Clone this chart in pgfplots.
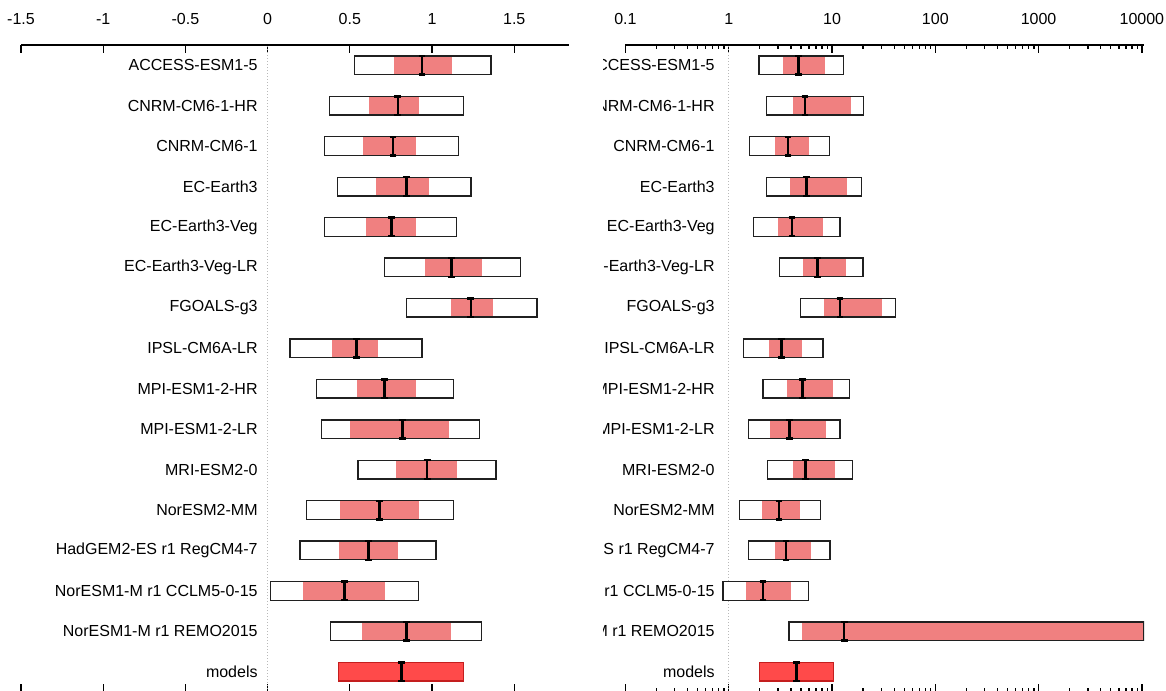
\documentclass[border=0pt]{standalone}
\usepackage{fontspec}
\setmainfont{Liberation Sans}
\usepackage{pgfplots}
\usepackage{pgfplotstable}
\pgfplotsset{compat=1.18}

\definecolor{innerred}{HTML}{F08080}
\definecolor{modfill}{HTML}{FF4A4A}
\definecolor{modedge}{HTML}{C41E1E}
\definecolor{boxedge}{HTML}{202020}

% y lo hi ilo ihi c   (rows from top: 15 = ACCESS-ESM1-5 ... 1 = NorESM1-M r1 REMO2015)
\pgfplotstableread{
y lo hi ilo ihi c
15 0.529 1.359 0.770 1.121 0.939
14 0.378 1.190 0.618 0.923 0.792
13 0.345 1.160 0.580 0.901 0.762
12 0.424 1.238 0.661 0.982 0.844
11 0.347 1.150 0.600 0.901 0.753
10 0.711 1.539 0.958 1.301 1.117
9 0.844 1.638 1.117 1.368 1.236
8 0.137 0.939 0.390 0.673 0.541
7 0.297 1.131 0.541 0.901 0.711
6 0.329 1.289 0.501 1.103 0.820
5 0.550 1.390 0.778 1.152 0.970
4 0.236 1.131 0.441 0.923 0.681
3 0.198 1.025 0.437 0.790 0.613
2 0.017 0.917 0.215 0.716 0.466
1 0.383 1.302 0.575 1.113 0.845
}\leftdata

\pgfplotstableread{
y lo hi c
0 0.431 1.191 0.814
}\leftmodels

\pgfplotstableread{
y lo hi ilo ihi c
15 1.96 12.9 3.33 8.63 4.76
14 2.33 20.1 4.19 15.4 5.48
13 1.60 9.44 2.83 5.99 3.75
12 2.33 19.3 3.89 14.1 5.65
11 1.73 11.9 2.98 8.13 4.10
10 3.10 19.95 5.29 13.7 7.22
9 4.94 41.1 8.31 30.7 11.95
8 1.39 8.18 2.48 5.13 3.24
7 2.15 14.8 3.64 10.3 5.17
6 1.56 11.95 2.49 8.69 3.87
5 2.37 15.7 4.17 10.8 5.56
4 1.27 7.71 2.10 4.87 3.07
3 1.56 9.57 2.83 6.31 3.59
2 0.88 5.91 1.47 3.98 2.15
1 3.83 10480 5.17 10480 13.1
}\rightdata

\pgfplotstableread{
y lo hi c
0 2.00 10.3 4.55
}\rightmodels

\pgfplotsset{
  obfill/.style={draw=none, fill=white, forget plot},
  obdraw/.style={draw=boxedge, line width=0.7pt, fill=none, forget plot},
  ibox/.style={draw=none, fill=innerred, forget plot},
  mbox/.style={draw=modedge, fill=modfill, line width=0.65pt, forget plot},
  ibeam/.style={draw=none, mark=none, forget plot,
    error bars/.cd, y dir=both, y fixed=0.23, error mark=-,
    error bar style={draw=black, line width=1.3pt},
    error mark options={rotate=90, draw=black, line width=1.2pt, mark size=1.7pt}},
  panel/.style={
    anchor=south west, scale only axis, height=323.5pt,
    ymin=-0.5, ymax=15.5,
    ytick={0,...,15},
    yticklabels={models, NorESM1-M r1 REMO2015, NorESM1-M r1 CCLM5-0-15, HadGEM2-ES r1 RegCM4-7, NorESM2-MM, MRI-ESM2-0, MPI-ESM1-2-LR, MPI-ESM1-2-HR, IPSL-CM6A-LR, FGOALS-g3, EC-Earth3-Veg-LR, EC-Earth3-Veg, EC-Earth3, CNRM-CM6-1, CNRM-CM6-1-HR, ACCESS-ESM1-5},
    separate axis lines,
    y axis line style={draw=none},
    x axis line style={line width=0.65pt, black},
    xtick pos=both, xticklabel pos=upper,
    y tick style={draw=none},
    x tick style={line width=0.65pt, black},
    major tick length=4pt, minor tick length=2pt,
    xticklabel style={anchor=south, inner sep=0pt, yshift=10pt},
    tick label style={font=\fontsize{8}{9.6}\selectfont},
    /pgf/number format/assume math mode=true,
  },
}

\newcommand{\drawrows}[1]{%
  \pgfplotstablegetrowsof{#1}%
  \pgfmathtruncatemacro{\nlast}{\pgfplotsretval-1}%
  \pgfplotsforeachungrouped \myrow in {0,...,\nlast}{%
    \pgfplotstablegetelem{\myrow}{y}\of{#1}%
    \pgfmathsetmacro{\ya}{\pgfplotsretval-0.23}%
    \pgfmathsetmacro{\yb}{\pgfplotsretval+0.23}%
    \pgfplotstablegetelem{\myrow}{lo}\of{#1}\let\vlo\pgfplotsretval
    \pgfplotstablegetelem{\myrow}{hi}\of{#1}\let\vhi\pgfplotsretval
    \pgfplotstablegetelem{\myrow}{ilo}\of{#1}\let\vilo\pgfplotsretval
    \pgfplotstablegetelem{\myrow}{ihi}\of{#1}\let\vihi\pgfplotsretval
    \edef\tmp{%
      \noexpand\addplot[obfill] coordinates {(\vlo,\ya) (\vhi,\ya) (\vhi,\yb) (\vlo,\yb)} --cycle;
      \noexpand\addplot[ibox] coordinates {(\vilo,\ya) (\vihi,\ya) (\vihi,\yb) (\vilo,\yb)} --cycle;
      \noexpand\addplot[obdraw] coordinates {(\vlo,\ya) (\vhi,\ya) (\vhi,\yb) (\vlo,\yb)} --cycle;
    }%
    \tmp
  }%
}
\newcommand{\drawmodels}[1]{%
  \pgfplotstablegetelem{0}{lo}\of{#1}\let\vlo\pgfplotsretval
  \pgfplotstablegetelem{0}{hi}\of{#1}\let\vhi\pgfplotsretval
  \edef\tmp{%
    \noexpand\addplot[mbox] coordinates {(\vlo,-0.23) (\vhi,-0.23) (\vhi,0.23) (\vlo,0.23)} --cycle;
  }%
  \tmp
}

\begin{document}
\begin{tikzpicture}
\useasboundingbox (0pt,0pt) rectangle (583pt,345pt);

\begin{axis}[panel,
  at={(10.5pt,-1pt)}, width=273.75pt,
  xmin=-1.5, xmax=1.83,
  xtick={-1.5,-1,-0.5,0,0.5,1,1.5},
  xticklabels={-1.5,-1,-0.5,0,0.5,1,1.5},
  yticklabel style={anchor=east, inner sep=0pt, xshift=118.5pt},
]
\addplot[gray!55, densely dotted, line width=0.5pt, forget plot] coordinates {(0,-0.5) (0,15.5)};
\drawrows{\leftdata}
\drawmodels{\leftmodels}
\addplot[ibeam] table[x=c, y=y] {\leftdata};
\addplot[ibeam] table[x=c, y=y] {\leftmodels};
\end{axis}

\begin{scope}
\clip (301.6pt,-5pt) rectangle (590pt,350pt);
\begin{axis}[panel,
  at={(312.7pt,-1pt)}, width=259.3pt,
  xmode=log, xmin=0.1, xmax=10480,
  xtick={0.1,1,10,100,1000,10000},
  xticklabels={0.1,1,10,100,1000,10000},
  minor xtick={0.2,0.3,0.4,0.5,0.6,0.7,0.8,0.9,2,3,4,5,6,7,8,9,20,30,40,50,60,70,80,90,200,300,400,500,600,700,800,900,2000,3000,4000,5000,6000,7000,8000,9000},
  yticklabel style={anchor=east, inner sep=0pt, xshift=44.8pt},
]
\addplot[gray!55, densely dotted, line width=0.5pt, forget plot] coordinates {(1,-0.5) (1,15.5)};
\drawrows{\rightdata}
\drawmodels{\rightmodels}
\addplot[ibeam] table[x=c, y=y] {\rightdata};
\addplot[ibeam] table[x=c, y=y] {\rightmodels};
\end{axis}
\end{scope}
\end{tikzpicture}
\end{document}
